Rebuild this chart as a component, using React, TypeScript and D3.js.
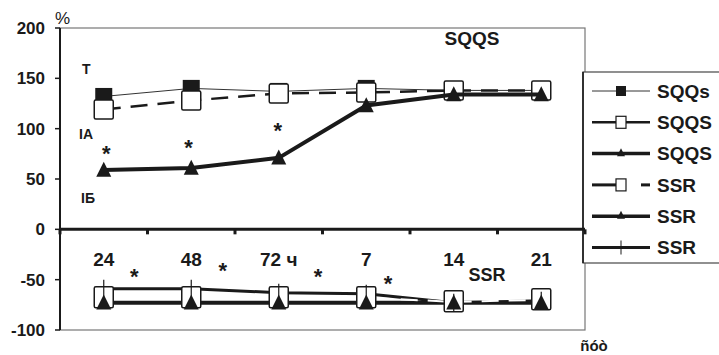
import React from "react";
import * as d3 from "d3";

const categories = ["24", "48", "72 ч", "7", "14", "21"];
const yTicks = [200, 150, 100, 50, 0, -50, -100];
const sqqsFilled = [132, 140, 137, 140, 138, 138];
const sqqsOpen = [119, 128, 135, 136, 138, 138];
const sqqsTri = [59, 61, 71, 123, 134, 134];
const ssrOpen = [-68, -68, -68, -68, -72, -70];
const ssrTri = [-73, -73, -73, -73, -73, -73];
const ssrCross = [-59, -59, -63, -64, -73, -71];
const legendLabels = ["SQQs", "SQQS", "SQQS", "SSR", "SSR", "SSR"];
const topStars = [
  { i: 0.03, v: 84 },
  { i: 0.97, v: 90 },
  { i: 1.99, v: 107 },
];
const bottomStars = [
  { i: 0.35, v: -38 },
  { i: 1.36, v: -32 },
  { i: 2.45, v: -38 },
  { i: 3.25, v: -45 },
];

const W = 719;
const H = 355;
const L = 60;
const R = 585;
const T = 28;
const B = 330;

export default function App() {
  const x = d3.scalePoint<string>().domain(categories).range([L, R]).padding(0.5);
  const y = d3.scaleLinear().domain([-100, 200]).range([B, T]);
  const step = x.step();
  const xi = (i: number) => (x(categories[0]) as number) + i * step;
  const line = d3
    .line<number>()
    .x((_, i) => xi(i))
    .y((d) => y(d));
  const font = "'Liberation Sans', Arial, sans-serif";
  const ink = "#1a1a1a";
  const boundaries = d3.range(categories.length + 1).map((i) => L + i * step);
  const tri = (cx: number, cy: number, s: number) =>
    `M${cx},${cy - s * 0.55}L${cx + s / 2},${cy + s * 0.45}L${cx - s / 2},${cy + s * 0.45}Z`;

  const legendY = d3.range(6).map((i) => 91 + i * 31.3);

  return (
    <svg width={W} height={H} style={{ position: "absolute", left: 0, top: 0, background: "#fff" }}>
      {/* plot frame */}
      <rect x={L} y={T} width={R - L} height={B - T} fill="none" stroke="#777" strokeWidth={1.2} />
      {/* legend box */}
      <rect x={583} y={72} width={150} height={191} fill="#fff" stroke="#555" strokeWidth={1.3} />
      <line x1={L} x2={L} y1={T} y2={B} stroke={ink} strokeWidth={2} />
      <line x1={583} x2={583} y1={72} y2={263} stroke={ink} strokeWidth={1.6} />
      {/* zero line */}
      <line x1={L} x2={R} y1={y(0)} y2={y(0)} stroke={ink} strokeWidth={3} />
      {boundaries.map((bx, i) => (
        <line key={i} x1={bx} x2={bx} y1={y(0)} y2={y(0) + 5} stroke={ink} strokeWidth={3} />
      ))}
      {/* y ticks */}
      {yTicks.map((t) => (
        <g key={t}>
          <line x1={L - 5} x2={L} y1={y(t)} y2={y(t)} stroke={ink} strokeWidth={1.5} />
          <text
            x={45}
            y={y(t)}
            dy="0.36em"
            textAnchor="end"
            fontFamily={font}
            fontWeight="bold"
            fontSize={17}
            fill={ink}
          >
            {t}
          </text>
        </g>
      ))}
      <text x={55} y={24} fontFamily={font} fontSize={17} fill={ink}>
        %
      </text>

      {/* top series: filled squares thin line */}
      <path d={line(sqqsFilled) || ""} fill="none" stroke="#333" strokeWidth={1} />
      {sqqsFilled.map((v, i) => (
        <rect key={i} x={xi(i) - 8.5} y={y(v) - 8.5} width={17} height={17} fill={ink} />
      ))}
      {/* open squares dashed */}
      <path d={line(sqqsOpen) || ""} fill="none" stroke={ink} strokeWidth={2.5} strokeDasharray="17,10" />
      {sqqsOpen.map((v, i) => (
        <rect key={i} x={xi(i) - 9.5} y={y(v) - 9.5} width={19} height={19} fill="#fff" stroke={ink} strokeWidth={1.5} rx={1.5} />
      ))}
      {/* triangles thick */}
      <path d={line(sqqsTri) || ""} fill="none" stroke={ink} strokeWidth={4} />
      {sqqsTri.map((v, i) => (
        <path key={i} d={tri(xi(i), y(v), 15)} fill={ink} />
      ))}

      {/* bottom series */}
      <path d={line(ssrCross) || ""} fill="none" stroke={ink} strokeWidth={3} />
      <path d={line(ssrTri) || ""} fill="none" stroke={ink} strokeWidth={4} />
      <path d={line(ssrOpen) || ""} fill="none" stroke="#fff" strokeWidth={2} strokeDasharray="17,10" />
      {ssrOpen.map((v, i) => (
        <rect key={i} x={xi(i) - 9.5} y={y(v) - 11} width={19} height={21} fill="#fff" stroke={ink} strokeWidth={1.5} rx={1.5} />
      ))}
      {ssrTri.map((v, i) => (
        <path key={i} d={tri(xi(i), y(v), 15)} fill={ink} />
      ))}
      {ssrCross.map((v, i) => (
        <line key={i} x1={xi(i)} x2={xi(i)} y1={y(v) - 9} y2={y(v) + 9} stroke={ink} strokeWidth={1.2} />
      ))}

      {/* category labels */}
      {categories.map((c, i) => (
        <text
          key={c}
          x={xi(i)}
          y={259}
          dy="0.36em"
          textAnchor="middle"
          fontFamily={font}
          fontWeight="bold"
          fontSize={19}
          fill={ink}
        >
          {c}
        </text>
      ))}

      {/* stars */}
      {topStars.map((s, k) => (
        <text key={k} x={xi(s.i)} y={y(s.v)} dy="0.75em" textAnchor="middle" fontFamily={font} fontWeight="bold" fontSize={22} fill={ink}>
          *
        </text>
      ))}
      {bottomStars.map((s, k) => (
        <text key={k} x={xi(s.i)} y={y(s.v)} dy="0.75em" textAnchor="middle" fontFamily={font} fontWeight="bold" fontSize={22} fill={ink}>
          *
        </text>
      ))}

      {/* annotations */}
      <text x={472} y={38} dy="0.36em" textAnchor="middle" fontFamily={font} fontWeight="bold" fontSize={19} fill={ink}>
        SQQS
      </text>
      <text x={487} y={275} dy="0.36em" textAnchor="middle" fontFamily={font} fontWeight="bold" fontSize={18} fill={ink}>
        SSR
      </text>
      <text x={82} y={69} dy="0.36em" fontFamily={font} fontWeight="bold" fontSize={14} fill={ink}>
        T
      </text>
      <text x={79} y={134} dy="0.36em" fontFamily={font} fontWeight="bold" fontSize={14} fill={ink}>
        IA
      </text>
      <text x={81} y={198} dy="0.36em" fontFamily={font} fontWeight="bold" fontSize={14} fill={ink}>
        IБ
      </text>
      <text x={594} y={351} textAnchor="middle" fontFamily={font} fontWeight="bold" fontSize={15} fill={ink}>
        ñóò
      </text>

      {/* legend */}
      {legendLabels.map((lab, i) => {
        const ly = legendY[i];
        const x0 = 592;
        const x1 = 650;
        const mx = 621;
        return (
          <g key={i}>
            {i === 0 && (
              <>
                <line x1={x0} x2={x1} y1={ly} y2={ly} stroke="#333" strokeWidth={1} />
                <rect x={mx - 5} y={ly - 5} width={10} height={10} fill={ink} />
              </>
            )}
            {i === 1 && (
              <>
                <line x1={x0} x2={x1} y1={ly} y2={ly} stroke={ink} strokeWidth={2.5} />
                <rect x={mx - 5} y={ly - 6} width={10} height={12} fill="#fff" stroke={ink} strokeWidth={1.2} />
              </>
            )}
            {(i === 2 || i === 4) && (
              <>
                <line x1={x0} x2={x1} y1={ly} y2={ly} stroke={ink} strokeWidth={3.5} />
                <path d={tri(mx, ly - 1, 8)} fill={ink} />
              </>
            )}
            {i === 3 && (
              <>
                <line x1={x0} x2={mx} y1={ly} y2={ly} stroke={ink} strokeWidth={3} />
                <line x1={641} x2={650} y1={ly} y2={ly} stroke={ink} strokeWidth={3} />
                <rect x={mx - 5} y={ly - 6} width={10} height={12} fill="#fff" stroke={ink} strokeWidth={1.2} />
              </>
            )}
            {i === 5 && (
              <>
                <line x1={x0} x2={x1} y1={ly} y2={ly} stroke={ink} strokeWidth={3} />
                <line x1={mx} x2={mx} y1={ly - 7} y2={ly + 7} stroke={ink} strokeWidth={1} />
              </>
            )}
            <text x={657} y={ly} dy="0.36em" fontFamily={font} fontWeight="bold" fontSize={19} fill={ink}>
              {lab}
            </text>
          </g>
        );
      })}
    </svg>
  );
}
